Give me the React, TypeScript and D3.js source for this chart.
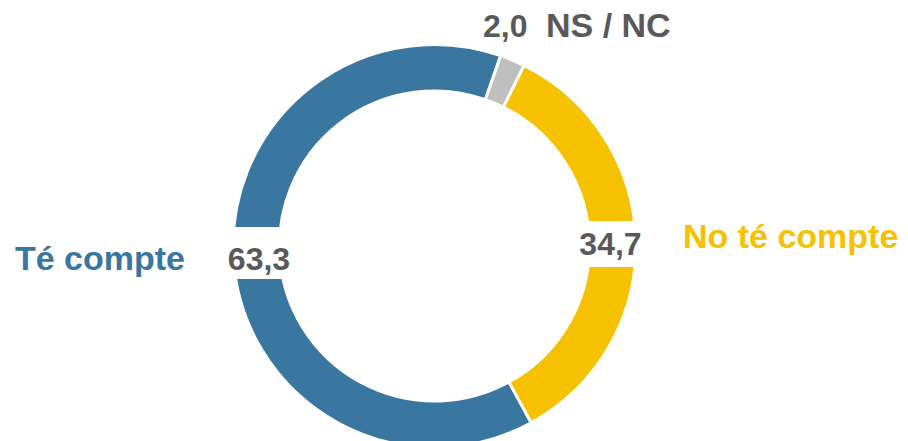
import React from "react";
import * as d3 from "d3";

const categories = ["Té compte", "NS / NC", "No té compte"];
const values = [63.3, 2.0, 34.7];
const valueLabels = ["63,3", "2,0", "34,7"];
const colors = ["#3A77A0", "#BFBFBF", "#F6C100"];
const labelColors = ["#3A77A0", "#595959", "#F6C100"];

const W = 908;
const H = 441;
const cx = 434.5;
const cy = 246;
const outerR = 201.5;
const innerR = 155;
const startDeg = 151.3;

export default function App() {
  const pie = d3
    .pie<number>()
    .sort(null)
    .value((d) => d)
    .startAngle((startDeg * Math.PI) / 180)
    .endAngle(((startDeg + 360) * Math.PI) / 180);
  const arcs = pie(values);
  const arc = d3.arc<d3.PieArcDatum<number>>().innerRadius(innerR).outerRadius(outerR);

  const font = "'Liberation Sans', Arial, sans-serif";
  return (
    <svg
      width={W}
      height={H}
      style={{ position: "absolute", left: 0, top: 0, background: "#fff" }}
      fontFamily={font}
      fontWeight="bold"
    >
      <g transform={`translate(${cx},${cy})`}>
        {arcs.map((a, i) => (
          <path key={i} d={arc(a) || ""} fill={colors[i]} stroke="#fff" strokeWidth={3} />
        ))}
      </g>
      {/* Té compte value */}
      <rect x={222} y={227} width={74} height={52} fill="#fff" />
      <text x={259} y={270} textAnchor="middle" fontSize={32} fill="#595959">
        {valueLabels[0]}
      </text>
      <text x={15} y={270} textAnchor="start" fontSize={34} fill={labelColors[0]}>
        {categories[0]}
      </text>
      {/* No té compte value */}
      <rect x={574} y={221} width={73} height={46} fill="#fff" />
      <text x={610.5} y={255} textAnchor="middle" fontSize={32} fill="#595959">
        {valueLabels[2]}
      </text>
      <text x={683} y={248} textAnchor="start" fontSize={34} fill={labelColors[2]}>
        {categories[2]}
      </text>
      {/* NS / NC */}
      <text x={483} y={37} textAnchor="start" fontSize={32} fill="#595959">
        {valueLabels[1]}
      </text>
      <text x={546} y={37} textAnchor="start" fontSize={34} fill={labelColors[1]}>
        {categories[1]}
      </text>
    </svg>
  );
}
